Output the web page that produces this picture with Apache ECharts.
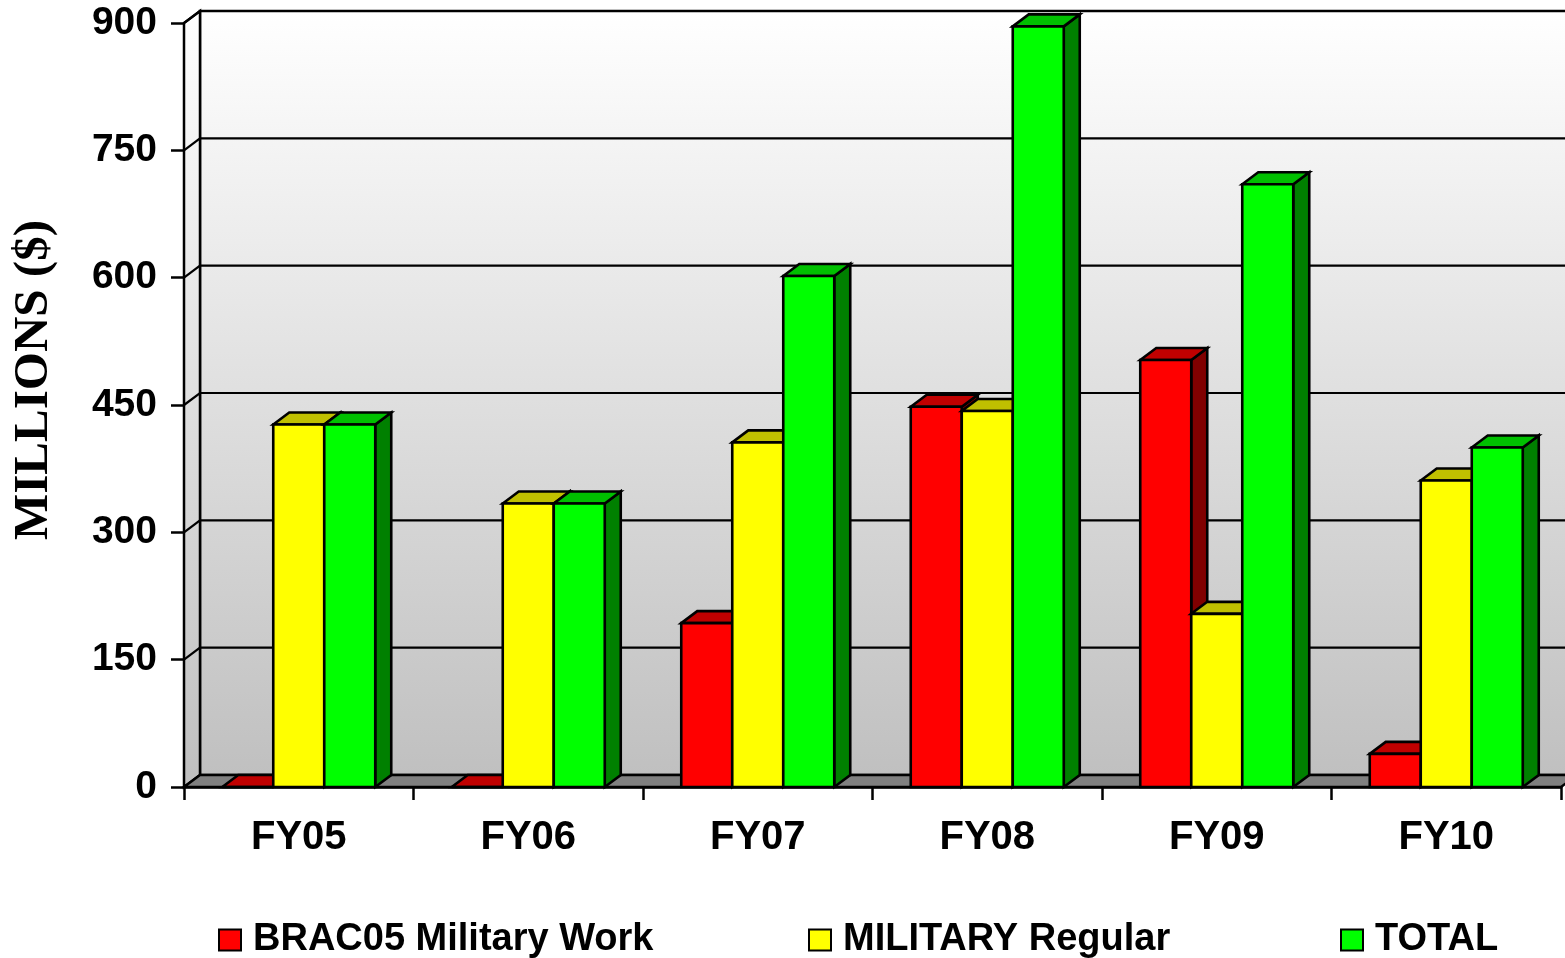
<!DOCTYPE html>
<html><head><meta charset="utf-8">
<script src="https://cdn.jsdelivr.net/npm/echarts@6/dist/echarts.min.js"></script>
<style>html,body{margin:0;padding:0;background:#fff}#c{width:1565px;height:958px}</style>
</head><body><div id="c"></div>
<script>
// ---- data ----
const categories = ['FY05', 'FY06', 'FY07', 'FY08', 'FY09', 'FY10'];
const bracValues = [0, 0, 193, 448, 503, 39];
const regularValues = [427, 334, 406, 443, 204, 361];
const totalValues = [427, 334, 602, 896, 710, 400];
const yTicks = [0, 150, 300, 450, 600, 750, 900];
const seriesNames = ['BRAC05 Military Work', 'MILITARY Regular', 'TOTAL'];

// ---- style ----
const DX = 16, DY = 12;
const FONT = '"Liberation Sans", Arial, sans-serif';
const faceColors = [
  { front: '#FF0000', top: '#C00000', side: '#800000' },
  { front: '#FFFF00', top: '#C0C000', side: '#808000' },
  { front: '#00FF00', top: '#00C000', side: '#008000' }
];

function wallRender(params, api) {
  const cs = params.coordSys;
  const x = cs.x, y = cs.y, w = cs.width, h = cs.height;
  const grad = new echarts.graphic.LinearGradient(0, y - DY, 0, y + h - DY,
    [{ offset: 0, color: '#ffffff' }, { offset: 1, color: '#c0c0c0' }], true);
  const children = [];
  children.push({ type: 'rect', shape: { x: x + DX, y: y - DY, width: w, height: h },
    style: { fill: grad, stroke: '#000', lineWidth: 2.5 } });
  children.push({ type: 'polygon', shape: { points: [[x, y + h], [x, y], [x + DX, y - DY], [x + DX, y + h - DY]] },
    style: { fill: grad, stroke: '#000', lineWidth: 2.5 } });
  children.push({ type: 'polygon', shape: { points: [[x, y + h], [x + DX, y + h - DY], [x + w + DX, y + h - DY], [x + w, y + h]] },
    style: { fill: '#808080', stroke: '#000', lineWidth: 2.5 } });
  yTicks.forEach(function (v) {
    if (v === 0) return;
    const py = api.coord([0, v])[1];
    children.push({ type: 'polyline', shape: { points: [[x, py], [x + DX, py - DY], [x + w + DX, py - DY]] },
      style: { stroke: '#000', lineWidth: 2.2, fill: null } });
  });
  return { type: 'group', children: children };
}

function makeBarRender(si) {
  return function (params, api) {
    const ci = api.value(0), v = api.value(1);
    const base = api.coord([ci, 0]);
    const topP = api.coord([ci, v]);
    const cw = api.size([1, 0])[0];
    const bw = cw / 4.5;
    const x0 = base[0] - 1.5 * bw + si * bw;
    const x1 = x0 + bw;
    const yb = base[1], yt = topP[1];
    const c = faceColors[si];
    const st = function (f) { return { fill: f, stroke: '#000', lineWidth: 2.6, lineJoin: 'miter' }; };
    return { type: 'group', children: [
      { type: 'polygon', shape: { points: [[x1, yt], [x1 + DX, yt - DY], [x1 + DX, yb - DY], [x1, yb]] }, style: st(c.side) },
      { type: 'polygon', shape: { points: [[x0, yt], [x0 + DX, yt - DY], [x1 + DX, yt - DY], [x1, yt]] }, style: st(c.top) },
      { type: 'rect', shape: { x: x0, y: yt, width: bw, height: yb - yt }, style: st(c.front) }
    ] };
  };
}

const valueLists = [bracValues, regularValues, totalValues];

const chart = echarts.init(document.getElementById('c'), null, { renderer: 'canvas' });
chart.setOption({
  animation: false,
  backgroundColor: '#ffffff',
  grid: { left: 184, right: 4, top: 23, bottom: 171, containLabel: false, outerBoundsMode: 'none' },
  xAxis: {
    type: 'category', data: categories, boundaryGap: true,
    axisLine: { show: true, lineStyle: { color: '#000', width: 2.5 } },
    axisTick: { show: true, length: 13, lineStyle: { color: '#000', width: 2.5 } },
    axisLabel: { fontSize: 40, fontWeight: 'bold', color: '#000', fontFamily: FONT, margin: 31 },
    splitLine: { show: false }
  },
  yAxis: {
    type: 'value', min: 0, max: 900, interval: 150,
    axisLine: { show: true, lineStyle: { color: '#000', width: 2.5 } },
    axisTick: { show: true, length: 13, lineStyle: { color: '#000', width: 2.5 } },
    axisLabel: { fontSize: 39, fontWeight: 'bold', color: '#000', fontFamily: FONT, margin: 27 },
    splitLine: { show: false },
    name: 'MILLIONS ($)', nameLocation: 'middle', nameRotate: 90, nameGap: 125,
    nameTextStyle: { fontFamily: '"Liberation Serif", "Times New Roman", serif', fontWeight: 'bold',
      fontSize: 49, color: '#000', padding: [0, 0, 0, 50] }
  },
  legend: seriesNames.map(function (n, i) {
    return {
      data: [n], left: [218, 808, 1340][i], top: 921, padding: 0,
      itemWidth: 22, itemHeight: 21, icon: 'rect', selectedMode: false,
      itemStyle: { borderColor: '#000', borderWidth: 2 },
      textStyle: { fontSize: 38, fontWeight: 'bold', color: '#000', fontFamily: FONT, padding: [0, 0, 0, 7] }
    };
  }),
  series: [
    { type: 'custom', name: 'walls', z: 1, silent: true, renderItem: wallRender, data: [[0, 0]], encode: { x: 0, y: 1 } }
  ].concat(seriesNames.map(function (n, si) {
    return {
      type: 'custom', name: n, z: 2, silent: true,
      itemStyle: { color: faceColors[si].front },
      renderItem: makeBarRender(si),
      encode: { x: 0, y: 1 },
      data: valueLists[si].map(function (v, i) { return [i, v]; })
    };
  }))
});
</script></body></html>
